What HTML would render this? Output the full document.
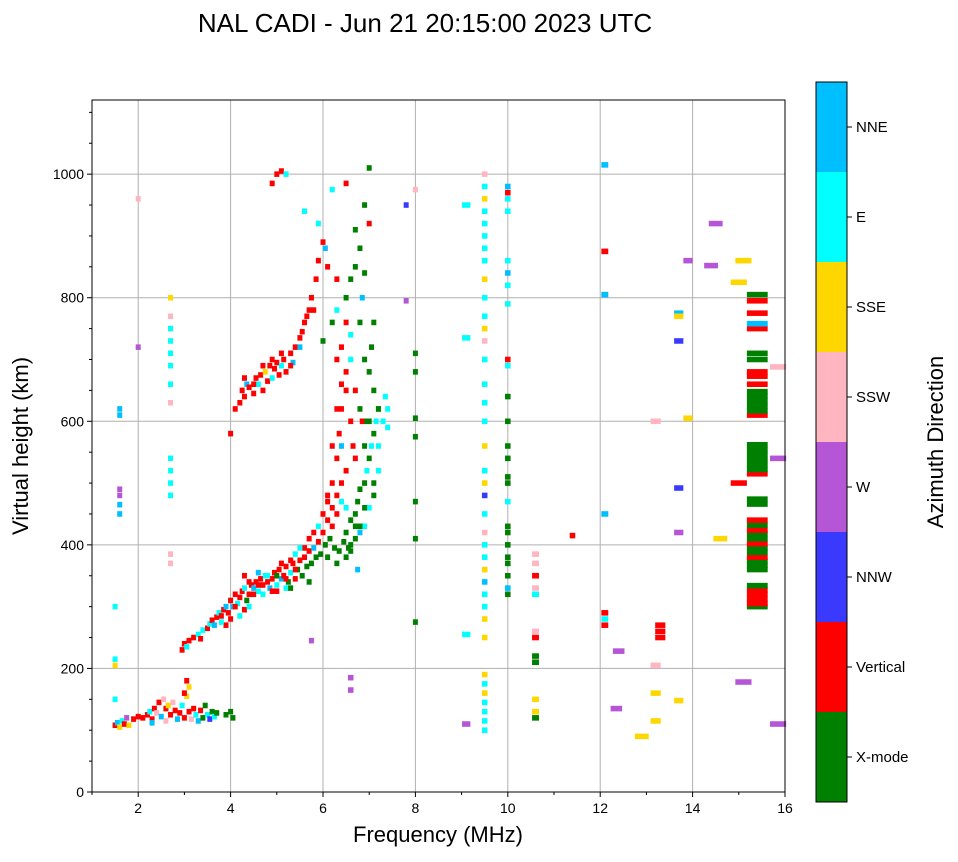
<!DOCTYPE html>
<html><head><meta charset="utf-8">
<style>
body{margin:0;background:#fff;font-family:"Liberation Sans",sans-serif;}
svg text{font-family:"Liberation Sans",sans-serif;fill:#000;}
</style></head>
<body>
<svg id="chart" width="958" height="857" viewBox="0 0 958 857" xmlns="http://www.w3.org/2000/svg">
<text x="425" y="32" font-size="26" text-anchor="middle">NAL CADI - Jun 21 20:15:00 2023 UTC</text>
<g id="grid"></g>
<g id="marks"></g>
<rect x="92" y="100" width="693" height="692" fill="none" stroke="#000" stroke-width="1"/>
<g id="axes"></g>
<text x="438" y="842" font-size="22" text-anchor="middle">Frequency (MHz)</text>
<text x="28" y="446" font-size="22" text-anchor="middle" transform="rotate(-90 28 446)">Virtual height (km)</text>
<g id="cbar"></g>
<text x="943" y="442" font-size="22" text-anchor="middle" transform="rotate(-90 943 442)">Azimuth Direction</text>
</svg>
<script>
const colorNames = ["X-mode","Vertical","NNW","W","SSW","SSE","E","NNE"];
const colorValues = ["#008000","#ff0000","#3a3aff","#b556d6","#ffb6c1","#ffd700","#00ffff","#00bfff"];
const xTicks = [2,4,6,8,10,12,14,16];
const yTicks = [0,200,400,600,800,1000];
// [freq MHz, virtual height km, direction index, bin width MHz]
const cells = [
[2.95,230,1,0.08],[3.0,240,1,0.08],[3.05,235,6,0.08],[3.1,245,1,0.08],[3.2,250,1,0.08],[3.3,255,6,0.08],[3.35,248,1,0.08],[3.4,262,6,0.08],[3.5,265,1,0.08],[3.55,272,6,0.08],[3.6,278,1,0.08],[3.65,270,7,0.08],[3.7,283,1,0.08],[3.75,290,6,0.08],[3.8,285,1,0.08],[3.85,295,1,0.08],[3.9,300,7,0.08],[3.95,290,1,0.08],[4.0,310,1,0.08],[4.05,300,7,0.08],[4.1,320,1,0.08],[4.15,305,6,0.08],[4.2,315,1,0.08],[4.25,325,1,0.08],[4.3,330,6,0.08],[4.35,310,0,0.08],[4.4,320,1,0.08],[4.45,335,1,0.08],[4.5,330,7,0.08],[4.55,340,1,0.08],[4.6,325,6,0.08],[4.65,345,1,0.08],[4.7,335,1,0.08],[4.75,350,6,0.08],[4.8,340,1,0.08],[4.85,330,7,0.08],[4.9,345,1,0.08],[4.95,355,1,0.08],[5.0,335,6,0.08],[5.05,360,1,0.08],[5.1,345,7,0.08],[5.15,350,1,0.08],[5.2,365,1,0.08],[5.25,340,0,0.08],[5.3,355,6,0.08],[5.35,370,1,0.08],[5.4,345,1,0.08],[5.45,360,0,0.08],[5.5,375,1,0.08],[5.55,350,0,0.08],[5.6,380,1,0.08],[5.65,365,0,0.08],[5.7,390,1,0.08],[5.75,370,0,0.08],[5.8,395,7,0.08],[5.85,380,0,0.08],[5.9,405,1,0.08],[5.95,385,0,0.08],[6.0,420,1,0.08],[6.05,400,0,0.08],[6.1,440,1,0.08],[6.15,410,0,0.08],[6.2,460,1,0.08],[6.25,395,0,0.08],[6.3,480,1,0.08],[6.35,390,0,0.08],[6.4,500,1,0.08],[6.45,405,0,0.08],[6.5,520,1,0.08],[6.55,395,0,0.08],[6.6,440,0,0.08],[6.65,560,1,0.08],[6.7,450,0,0.08],[6.75,470,0,0.08],[6.8,490,0,0.08],[6.85,600,1,0.08],[6.9,500,0,0.08],[6.95,520,6,0.08],[7.0,540,0,0.08],[7.05,560,6,0.08],[7.1,580,0,0.08],[7.15,600,6,0.08],[7.2,620,0,0.08],[7.3,600,6,0.08],[7.35,640,6,0.08],[7.0,460,6,0.08],[7.1,480,0,0.08],[6.9,430,6,0.08],[6.8,420,7,0.08],[6.6,400,0,0.08],[7.2,520,6,0.08],
[6.2,500,1,0.08],[6.3,540,1,0.08],[6.35,580,1,0.08],[6.4,620,1,0.08],[6.5,650,1,0.08],[6.5,680,1,0.08],[6.3,700,1,0.08],[6.6,600,1,0.08],[6.4,560,7,0.08],[6.5,460,6,0.08],[6.7,540,1,0.08],
[4.5,320,1,0.08],[4.6,335,1,0.08],[4.8,350,6,0.08],[5.0,325,1,0.08],[5.2,330,6,0.08],[4.3,295,1,0.08],[4.2,285,6,0.08],[4.0,280,1,0.08],[3.9,270,1,0.08],[5.4,385,6,0.08],[5.6,395,1,0.08],[5.8,420,1,0.08],[6.0,450,1,0.08],[6.1,470,1,0.08],[5.3,330,0,0.08],[5.7,340,0,0.08],
[4.3,350,1,0.08],[4.4,340,1,0.08],[4.6,355,7,0.08],[4.7,320,6,0.08],[4.9,325,1,0.08],[5.1,370,1,0.08],[5.3,375,1,0.08],[5.5,395,6,0.08],[5.7,410,1,0.08],[5.9,430,6,0.08],[6.1,480,1,0.08],[6.2,430,1,0.08],[6.3,450,1,0.08],[6.4,470,6,0.08],[6.1,380,0,0.08],[6.3,370,0,0.08],[6.5,420,0,0.08],[6.7,430,0,0.08],[6.9,460,0,0.08],[7.1,500,0,0.08],[7.2,560,6,0.08],[7.4,590,6,0.08],[7.4,620,6,0.08],[7.0,600,0,0.08],[6.9,560,0,0.08],[6.2,560,1,0.08],[6.3,620,1,0.08],[6.4,660,1,0.08],[6.6,700,6,0.08],[6.7,650,1,0.08],[6.8,620,0,0.08],[4.1,300,1,0.08],[3.8,275,6,0.08],[4.4,300,6,0.08],[5.0,350,0,0.08],[5.2,345,1,0.08],[5.4,360,1,0.08],
[1.5,108,1,0.08],[1.55,112,7,0.08],[1.6,105,5,0.08],[1.65,115,6,0.08],[1.7,110,1,0.08],[1.75,120,3,0.08],[1.8,108,5,0.08],[1.9,118,1,0.08],[2.0,122,1,0.08],[2.1,120,1,0.08],[2.2,125,1,0.08],[2.25,130,6,0.08],[2.3,118,1,0.08],[2.35,135,1,0.08],[2.4,128,4,0.08],[2.45,145,1,0.08],[2.5,122,7,0.08],[2.55,150,4,0.08],[2.6,135,1,0.08],[2.65,140,5,0.08],[2.7,125,1,0.08],[2.75,145,4,0.08],[2.8,132,1,0.08],[2.85,118,7,0.08],[2.9,128,1,0.08],[2.95,140,6,0.08],[3.0,120,1,0.08],[3.05,155,5,0.08],[3.1,130,1,0.08],[3.15,118,4,0.08],[3.2,135,1,0.08],[3.25,125,6,0.08],[3.3,115,7,0.08],[3.35,132,1,0.08],[3.4,120,0,0.08],[3.45,140,0,0.08],[3.5,125,6,0.08],[3.55,118,2,0.08],[3.6,130,0,0.08],[3.65,122,6,0.08],[3.7,128,0,0.08],[3.9,125,0,0.08],[4.0,130,0,0.08],[4.05,120,0,0.08],[3.0,160,1,0.08],[2.3,112,7,0.08],[2.6,115,4,0.08],[3.05,180,1,0.08],[3.1,170,5,0.08],
[4.0,580,1,0.08],[4.1,620,1,0.08],[4.2,630,1,0.08],[4.25,650,1,0.08],[4.3,640,1,0.08],[4.35,660,7,0.08],[4.4,655,1,0.08],[4.5,645,1,0.08],[4.55,670,1,0.08],[4.6,660,6,0.08],[4.65,675,1,0.08],[4.7,650,1,0.08],[4.75,680,5,0.08],[4.8,665,1,0.08],[4.85,690,1,0.08],[4.9,670,6,0.08],[4.95,685,1,0.08],[5.0,695,1,0.08],[5.05,675,1,0.08],[5.1,690,6,0.08],[5.15,700,1,0.08],[5.2,680,1,0.08],[5.3,710,1,0.08],[5.35,695,7,0.08],[5.4,720,1,0.08],[5.5,735,1,0.08],[5.55,745,1,0.08],[5.6,760,1,0.08],[5.7,780,1,0.08],[5.75,800,1,0.08],[5.85,830,1,0.08],[5.9,860,1,0.08],[6.0,890,1,0.08],[6.05,880,7,0.08],[5.0,1000,1,0.08],[5.1,1005,1,0.08],[4.9,985,1,0.08],[5.2,1000,6,0.08],[6.5,985,1,0.08],[6.2,975,6,0.08],[7.0,1010,0,0.08],[5.6,940,6,0.08],[5.9,920,6,0.08],
[4.3,670,1,0.08],[4.5,660,1,0.08],[4.7,690,1,0.08],[4.9,700,1,0.08],[5.1,710,1,0.08],[5.3,690,1,0.08],[5.5,720,7,0.08],[5.65,770,1,0.08],[5.8,780,1,0.08],[6.1,850,1,0.08],
[6.0,730,0,0.08],[6.2,760,0,0.08],[6.5,800,0,0.08],[6.6,830,0,0.08],[6.7,850,0,0.08],[6.8,880,0,0.08],[6.9,840,0,0.08],[6.7,910,0,0.08],[6.8,760,0,0.08],[6.9,700,0,0.08],[7.0,680,0,0.08],[7.1,650,0,0.08],[7.2,620,0,0.08],[6.4,720,1,0.08],[6.5,760,1,0.08],[6.6,740,6,0.08],[6.3,780,6,0.08],[6.3,830,1,0.08],[6.9,950,0,0.08],[7.0,920,1,0.08],[6.85,800,7,0.08],[7.1,760,0,0.08],[6.95,600,0,0.08],[7.05,720,0,0.08],
[6.5,380,0,0.08],[6.6,390,0,0.08],[6.7,410,0,0.08],[6.8,430,0,0.08],[6.75,360,7,0.08],
[2.7,370,4,0.08],[2.7,385,4,0.08],[2.7,480,6,0.08],[2.7,500,6,0.08],[2.7,520,6,0.08],[2.7,540,6,0.08],[2.7,630,4,0.08],[2.7,660,6,0.08],[2.7,690,6,0.08],[2.7,710,6,0.08],[2.7,730,6,0.08],[2.7,750,6,0.08],[2.7,770,4,0.08],[2.7,800,5,0.08],
[1.6,450,7,0.08],[1.6,465,7,0.08],[1.6,480,3,0.08],[1.6,490,3,0.08],[1.6,610,7,0.08],[1.6,620,7,0.08],
[9.5,100,6,0.12],[9.5,115,6,0.12],[9.5,130,6,0.12],[9.5,145,6,0.12],[9.5,160,5,0.12],[9.5,175,6,0.12],[9.5,190,5,0.12],[9.5,250,5,0.12],[9.5,280,5,0.12],[9.5,300,6,0.12],[9.5,320,6,0.12],[9.5,340,7,0.12],[9.5,360,5,0.12],[9.5,380,6,0.12],[9.5,400,6,0.12],[9.5,420,4,0.12],[9.5,450,6,0.12],[9.5,480,2,0.12],[9.5,500,5,0.12],[9.5,520,6,0.12],[9.5,560,5,0.12],[9.5,600,6,0.12],[9.5,630,6,0.12],[9.5,660,6,0.12],[9.5,700,6,0.12],[9.5,730,4,0.12],[9.5,750,5,0.12],[9.5,770,6,0.12],[9.5,800,6,0.12],[9.5,830,5,0.12],[9.5,860,6,0.12],[9.5,880,6,0.12],[9.5,900,6,0.12],[9.5,920,6,0.12],[9.5,940,6,0.12],[9.5,960,5,0.12],[9.5,980,6,0.12],[9.5,1000,4,0.12],
[10.0,320,0,0.12],[10.0,330,7,0.12],[10.0,350,0,0.12],[10.0,370,0,0.12],[10.0,380,0,0.12],[10.0,400,0,0.12],[10.0,420,0,0.12],[10.0,430,0,0.12],[10.0,470,6,0.12],[10.0,500,0,0.12],[10.0,510,0,0.12],[10.0,540,0,0.12],[10.0,560,0,0.12],[10.0,600,0,0.12],[10.0,640,0,0.12],[10.0,690,6,0.12],[10.0,700,1,0.12],[10.0,790,6,0.12],[10.0,820,6,0.12],[10.0,840,7,0.12],[10.0,860,6,0.12],[10.0,940,6,0.12],[10.0,960,6,0.12],[10.0,970,1,0.12],[10.0,980,7,0.12],
[10.6,120,0,0.15],[10.6,130,5,0.15],[10.6,150,5,0.15],[10.6,210,0,0.15],[10.6,220,0,0.15],[10.6,250,1,0.15],[10.6,260,4,0.15],[10.6,320,6,0.15],[10.6,330,4,0.15],[10.6,350,1,0.15],[10.6,370,4,0.15],[10.6,385,4,0.15],
[12.1,270,1,0.15],[12.1,280,6,0.15],[12.1,290,1,0.15],[12.1,450,7,0.15],[12.1,805,7,0.15],[12.1,875,1,0.15],[12.1,1015,7,0.15],
[13.3,250,1,0.22],[13.3,260,1,0.22],[13.3,270,1,0.22],[13.2,115,5,0.22],[13.2,160,5,0.22],[13.2,205,4,0.22],[13.2,600,4,0.22],
[15.4,300,0,0.45],[15.4,305,1,0.45],[15.4,312,1,0.45],[15.4,320,1,0.45],[15.4,327,1,0.45],[15.4,334,0,0.45],[15.4,360,0,0.45],[15.4,367,0,0.45],[15.4,374,0,0.45],[15.4,380,1,0.45],[15.4,388,0,0.45],[15.4,395,0,0.45],[15.4,402,1,0.45],[15.4,410,0,0.45],[15.4,418,0,0.45],[15.4,424,1,0.45],[15.4,432,0,0.45],[15.4,440,1,0.45],[15.4,466,0,0.45],[15.4,474,0,0.45],[15.4,515,1,0.45],[15.4,522,0,0.45],[15.4,530,0,0.45],[15.4,538,0,0.45],[15.4,546,0,0.45],[15.4,554,0,0.45],[15.4,562,0,0.45],[15.4,610,1,0.45],[15.4,617,0,0.45],[15.4,625,0,0.45],[15.4,633,0,0.45],[15.4,641,0,0.45],[15.4,648,0,0.45],[15.4,660,1,0.45],[15.4,673,1,0.45],[15.4,680,1,0.45],[15.4,700,0,0.45],[15.4,710,0,0.45],[15.4,750,1,0.45],[15.4,758,7,0.45],[15.4,775,1,0.45],[15.4,795,1,0.45],[15.4,805,0,0.45],
[15.0,500,1,0.35],[15.0,825,5,0.35],[15.1,860,5,0.35],[15.1,178,3,0.35],[14.4,852,3,0.3],[14.5,920,3,0.3],[13.9,860,3,0.2],[13.7,730,2,0.2],[13.7,775,7,0.2],[13.7,770,5,0.2],[13.7,492,2,0.2],[13.7,420,3,0.2],[13.7,148,5,0.2],[12.9,90,5,0.3],[12.35,135,3,0.25],[12.4,228,3,0.25],[11.4,415,1,0.12],[9.1,110,3,0.18],[9.1,255,6,0.18],[9.1,735,6,0.18],[9.1,950,6,0.18],[8.0,975,4,0.1],[8.0,710,0,0.1],[8.0,680,0,0.1],[8.0,605,0,0.1],[8.0,575,0,0.1],[8.0,470,0,0.1],[8.0,410,0,0.1],[8.0,275,0,0.1],[7.8,950,2,0.1],[7.8,795,3,0.1],[14.6,410,5,0.3],[15.85,110,3,0.35],[15.85,540,3,0.35],[15.85,688,4,0.35],[13.9,605,5,0.2],[6.6,185,3,0.12],[6.6,165,3,0.12],[5.75,245,3,0.08],[2.0,960,4,0.08],[2.0,720,3,0.08],[1.5,300,6,0.1],[1.5,215,6,0.1],[1.5,205,5,0.1],[1.5,150,6,0.1]
];
const NS="http://www.w3.org/2000/svg";
const X0=92,X1=785,Y0=792,Y1=100,FMIN=1,FMAX=16,HMIN=0,HMAX=1120;
const xs=f=>X0+(f-FMIN)/(FMAX-FMIN)*(X1-X0);
const ys=h=>Y0-(h-HMIN)/(HMAX-HMIN)*(Y0-Y1);
function mk(tag,attrs,parent){const e=document.createElementNS(NS,tag);for(const k in attrs)e.setAttribute(k,attrs[k]);parent.appendChild(e);return e;}
const grid=document.getElementById('grid'),axes=document.getElementById('axes'),marks=document.getElementById('marks'),cbar=document.getElementById('cbar');
xTicks.forEach(t=>{const x=xs(t);
 if(t<FMAX){const g=mk('line',{x1:x,x2:x,y1:Y1,y2:Y0,stroke:'#b0b0b0','stroke-width':1},grid);
 
 }
 mk('line',{x1:x,x2:x,y1:Y0,y2:Y0+5,stroke:'#000'},axes);
 const l=mk('text',{x:x,y:Y0+21,'font-size':14,'text-anchor':'middle'},axes);l.textContent=t;
 
 
});
for(let f=1;f<FMAX;f+=2){mk('line',{x1:xs(f),x2:xs(f),y1:Y0,y2:Y0+3,stroke:'#000'},axes);}
yTicks.forEach(t=>{const y=ys(t);
 if(t>0){const g=mk('line',{x1:X0,x2:X1,y1:y,y2:y,stroke:'#b0b0b0','stroke-width':1},grid);
 
 }
 mk('line',{x1:X0-5,x2:X0,y1:y,y2:y,stroke:'#000'},axes);
 const l=mk('text',{x:X0-8,y:y+5,'font-size':14,'text-anchor':'end'},axes);l.textContent=t;
 
 
});
for(let h=50;h<HMAX;h+=50){if(h%200)mk('line',{x1:X0-3,x2:X0,y1:ys(h),y2:ys(h),stroke:'#000'},axes);}
const CH=9;
cells.forEach(c=>{const w=Math.max(5,xs(c[0]+c[3]/2)-xs(c[0]-c[3]/2));
 const r=mk('rect',{x:xs(c[0])-w/2,y:ys(c[1])-CH*0.618/2,width:w,height:CH*0.618,fill:colorValues[c[2]]},marks);
 
 
});
const CB_X=816,CB_W=31,CB_T=82,CB_B=802,seg=(CB_B-CB_T)/colorNames.length;
colorNames.forEach((n,i)=>{const y=CB_B-(i+1)*seg;
 const r=mk('rect',{x:CB_X,y:y,width:CB_W,height:seg,fill:colorValues[i]},cbar);
 
 
 mk('line',{x1:CB_X+CB_W,x2:CB_X+CB_W+5,y1:y+seg/2,y2:y+seg/2,stroke:'#000'},cbar);
 const t=mk('text',{x:CB_X+CB_W+9,y:y+seg/2+5,'font-size':15},cbar);t.textContent=n;
 
 
});
mk('rect',{x:CB_X,y:CB_T,width:CB_W,height:CB_B-CB_T,fill:'none',stroke:'#000'},cbar);
</script>
</body></html>
